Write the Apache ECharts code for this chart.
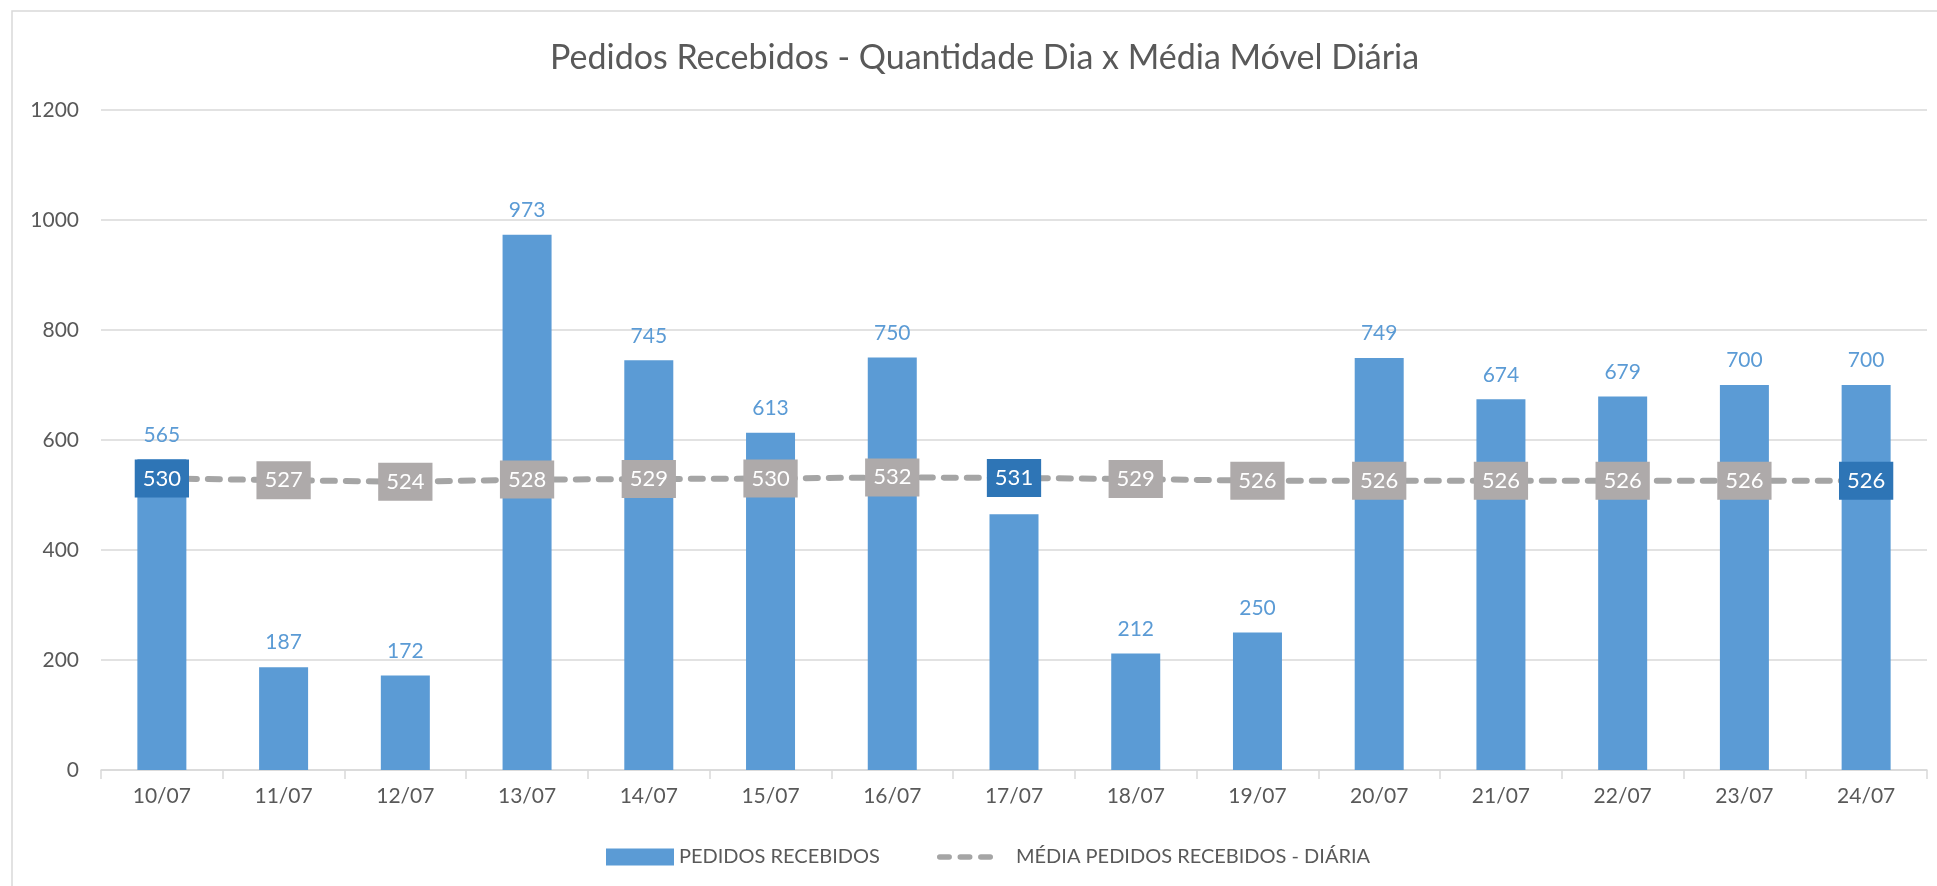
<!DOCTYPE html>
<html>
<head>
<meta charset="utf-8">
<script src="https://cdn.jsdelivr.net/npm/echarts@6/dist/echarts.min.js"></script>
<style>
  html, body { margin: 0; padding: 0; background: #fff; }
  #main { width: 1937px; height: 886px; }
</style>
</head>
<body>
<div id="main"></div>
<script>
// dados do grafico
var dias = ['10/07','11/07','12/07','13/07','14/07','15/07','16/07','17/07','18/07','19/07','20/07','21/07','22/07','23/07','24/07'];
var pedidos = [565, 187, 172, 973, 745, 613, 750, 465, 212, 250, 749, 674, 679, 700, 700];
var mediaDiaria = [530, 527, 524, 528, 529, 530, 532, 531, 529, 526, 526, 526, 526, 526, 526];
var destaques = [0, 7, 14]; // rotulos da media em azul escuro
var yTicks = [0, 200, 400, 600, 800, 1000, 1200];

var cinza = '#595959';
var fonte = 'Lato, "Open Sans", sans-serif';

// icone da legenda: tres tracos arredondados
var iconeTracos = 'path://M3,0 h10 a3,3 0 0 1 0,6 h-10 a3,3 0 0 1 0,-6 z' +
    ' M25,0 h10 a3,3 0 0 1 0,6 h-10 a3,3 0 0 1 0,-6 z' +
    ' M47,0 h10 a3,3 0 0 1 0,6 h-10 a3,3 0 0 1 0,-6 z';

var mediaData = mediaDiaria.map(function (v, i) {
    if (destaques.indexOf(i) >= 0) {
        return { value: v, label: { backgroundColor: '#2e75b6' } };
    }
    return v;
});

var myChart = echarts.init(document.getElementById('main'));

var option = {
    backgroundColor: '#fff',
    textStyle: { fontFamily: fonte },
    graphic: [{
        type: 'rect',
        shape: { x: 12, y: 11, width: 1940, height: 890 },
        style: { fill: 'none', stroke: '#d9d9d9', lineWidth: 1.5 },
        silent: true
    }],
    title: {
        text: 'Pedidos Recebidos - Quantidade Dia x Média Móvel Diária',
        left: 545,
        top: 36,
        textStyle: { color: cinza, fontSize: 34, fontWeight: 'normal', fontFamily: fonte }
    },
    legend: [
        {
            left: 601,
            top: 842,
            itemWidth: 68,
            itemHeight: 17,
            textStyle: { color: cinza, fontSize: 20, fontFamily: fonte },
            data: [{ name: 'PEDIDOS RECEBIDOS', icon: 'rect' }]
        },
        {
            left: 932,
            top: 842,
            itemWidth: 56,
            itemHeight: 7,
            textStyle: { color: cinza, fontSize: 20, fontFamily: fonte, padding: [0, 0, 0, 18] },
            data: [{ name: 'MÉDIA PEDIDOS RECEBIDOS - DIÁRIA', icon: iconeTracos }]
        }
    ],
    grid: { left: 101, right: 10, top: 110, bottom: 116 },
    xAxis: {
        type: 'category',
        data: dias,
        axisLine: { lineStyle: { color: '#d9d9d9', width: 1.5 } },
        axisTick: { show: true, length: 9, lineStyle: { color: '#d9d9d9', width: 1.5 } },
        axisLabel: { color: cinza, fontSize: 21, margin: 16, fontFamily: fonte }
    },
    yAxis: {
        type: 'value',
        min: yTicks[0],
        max: yTicks[yTicks.length - 1],
        interval: 200,
        axisLine: { show: false },
        axisTick: { show: false },
        axisLabel: {
            color: cinza, fontSize: 21, margin: 22, fontFamily: fonte,
            formatter: function (v) { return String(v); }
        },
        splitLine: { lineStyle: { color: '#d9d9d9', width: 1.5 } }
    },
    series: [
        {
            name: 'PEDIDOS RECEBIDOS',
            type: 'bar',
            data: pedidos,
            barWidth: 49,
            z: 2,
            itemStyle: { color: '#5b9bd5' },
            label: {
                show: true,
                position: 'top',
                distance: 14,
                color: '#5b9bd5',
                fontSize: 21,
                fontFamily: fonte
            }
        },
        {
            name: 'MÉDIA PEDIDOS RECEBIDOS - DIÁRIA',
            type: 'line',
            data: mediaData,
            z: 5,
            symbol: 'circle',
            symbolSize: 1,
            itemStyle: { color: '#a5a5a5' },
            lineStyle: { color: '#a5a5a5', width: 6, type: [12, 11], cap: 'round' },
            label: {
                show: true,
                position: 'inside',
                color: '#fff',
                fontSize: 22,
                fontFamily: fonte,
                backgroundColor: '#aeaaaa',
                padding: [8, 8, 8, 8]
            }
        }
    ]
};

myChart.setOption(option);
</script>
</body>
</html>
